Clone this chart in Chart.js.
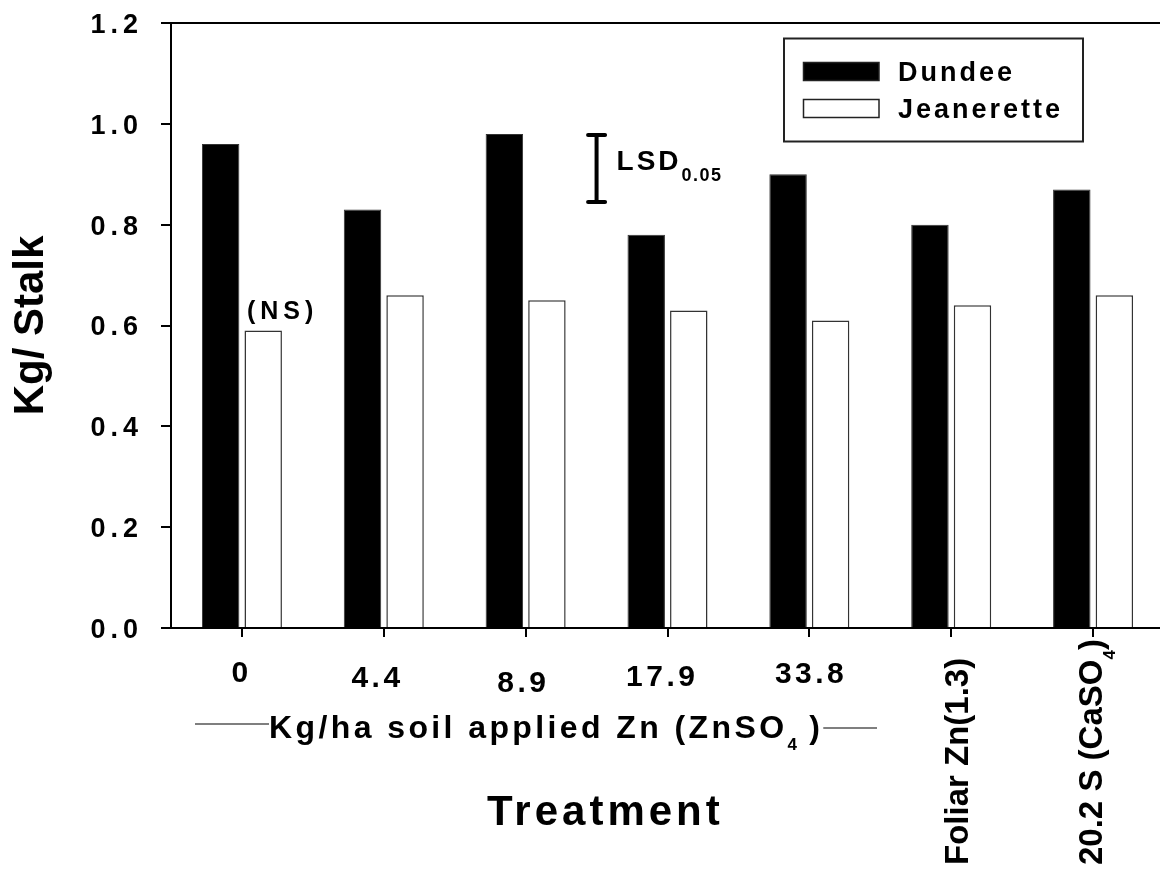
<!DOCTYPE html>
<html>
<head>
<meta charset="utf-8">
<script src="https://cdn.jsdelivr.net/npm/chart.js@4/dist/chart.umd.min.js"></script>
<style>
  html, body { margin: 0; padding: 0; background: #fff; overflow: hidden; }
  canvas { display: block; }
</style>
</head>
<body>
<canvas id="c" width="1165" height="873"></canvas>
<script>
// ---------- data ----------
const categories = ['0', '4.4', '8.9', '17.9', '33.8', 'Foliar Zn(1.3)', '20.2 S (CaSO4)'];
const seriesNames = ['Dundee', 'Jeanerette'];
const dundee = [0.96, 0.83, 0.98, 0.78, 0.90, 0.80, 0.87];
const jeanerette = [0.59, 0.66, 0.65, 0.63, 0.61, 0.64, 0.66];
const yTickValues = [0.0, 0.2, 0.4, 0.6, 0.8, 1.0, 1.2];
const lsdRange = [0.845, 0.978];
const lsdLabel = ['LSD', '0.05'];
const nsLabel = '(NS)';
const xGroupLabel = ['Kg/ha soil applied Zn (ZnSO', '4', ' )'];
const xTitle = 'Treatment';
const yTitle = 'Kg/ Stalk';

const FAMILY = '"Liberation Sans", Arial, Helvetica, sans-serif';

function setFont(ctx, size, sp) {
  ctx.font = 'bold ' + size + 'px ' + FAMILY;
  ctx.letterSpacing = (sp || 0) + 'px';
}
function drawRuns(ctx, x, y, runs) {
  let cx = x;
  for (const r of runs) {
    setFont(ctx, r.size, r.sp);
    ctx.fillText(r.t, cx, y + (r.dy || 0));
    cx += ctx.measureText(r.t).width;
  }
  return cx;
}
function labelRuns(label, size, subSize, subDy) {
  const m = label.match(/^(.*SO)(\d)(.*)$/);
  if (!m) return [{t: label, size: size}];
  return [{t: m[1], size: size}, {t: m[2], size: subSize, dy: subDy}, {t: m[3], size: size}];
}

const overlay = {
  id: 'overlay',
  afterLayout(chart) {
    const s = chart.scales.y;
    if (!s._patched) {
      const orig = Object.getPrototypeOf(s).drawLabels;
      s.drawLabels = function (area) {
        const c = this.ctx;
        c.save();
        c.letterSpacing = '5px';
        c.translate(-18, 2.5);
        orig.call(this, area);
        c.restore();
      };
      s._patched = true;
    }
  },
  afterDraw(chart) {
    const ctx = chart.ctx;
    const xs = chart.scales.x, ys = chart.scales.y;
    const area = chart.chartArea;
    ctx.save();
    ctx.fillStyle = '#000';
    ctx.strokeStyle = '#000';
    ctx.textBaseline = 'alphabetic';
    ctx.textAlign = 'left';

    // top frame line
    const yTop = Math.round(ys.getPixelForValue(yTickValues[yTickValues.length - 1]));
    ctx.lineWidth = 2;
    ctx.beginPath();
    ctx.moveTo(area.left, yTop);
    ctx.lineTo(chart.width, yTop);
    ctx.stroke();

    // legend
    ctx.lineWidth = 2;
    ctx.strokeStyle = '#222';
    ctx.strokeRect(784, 38.5, 299, 103);
    const ds = chart.data.datasets;
    const rows = [{sy: 62.5, base: 81}, {sy: 99.5, base: 118.3}];
    ds.forEach((d, i) => {
      const r = rows[i];
      ctx.fillStyle = d.backgroundColor;
      ctx.fillRect(803.5, r.sy, 75.5, 18);
      ctx.lineWidth = 1.5;
      ctx.strokeStyle = '#222';
      ctx.strokeRect(803.5, r.sy, 75.5, 18);
      ctx.fillStyle = '#000';
      setFont(ctx, 27, 3);
      ctx.fillText(d.label, 898, r.base);
    });

    // LSD bar
    const lx = xs.getPixelForValue(2.5);
    const ly1 = ys.getPixelForValue(lsdRange[1]);
    const ly2 = ys.getPixelForValue(lsdRange[0]);
    ctx.strokeStyle = '#000';
    ctx.lineWidth = 4;
    ctx.lineCap = 'round';
    ctx.beginPath();
    ctx.moveTo(lx, ly1); ctx.lineTo(lx, ly2);
    ctx.moveTo(lx - 8.5, ly1); ctx.lineTo(lx + 8.5, ly1);
    ctx.moveTo(lx - 8.5, ly2); ctx.lineTo(lx + 8.5, ly2);
    ctx.stroke();
    ctx.lineCap = 'butt';
    ctx.fillStyle = '#000';
    drawRuns(ctx, lx + 20, 170, [
      {t: lsdLabel[0], size: 28, sp: 3},
      {t: lsdLabel[1], size: 18, sp: 1.5, dy: 10.7}
    ]);

    // (NS)
    setFont(ctx, 25, 5);
    ctx.fillText(nsLabel, xs.getPixelForTick(0) + 5, 318.5);

    // x category labels
    const nudges = [
      {dx: -2, base: 682}, {dx: -8, base: 687}, {dx: -4, base: 692},
      {dx: -7, base: 686}, {dx: 0, base: 683}
    ];
    const rot = [{dx: 17, start: 865}, {dx: 8.6, start: 865}];
    categories.forEach((lab, i) => {
      const tx = xs.getPixelForTick(i);
      if (i < nudges.length) {
        const n = nudges[i];
        setFont(ctx, 30, 3.5);
        const w = ctx.measureText(lab).width - 3.5;
        ctx.fillText(lab, tx + n.dx - w / 2, n.base);
      } else {
        const r = rot[i - nudges.length];
        ctx.save();
        ctx.translate(tx + r.dx, r.start);
        ctx.rotate(-Math.PI / 2);
        drawRuns(ctx, 0, 0, labelRuns(lab, 33, 17, 13));
        ctx.restore();
      }
    });

    // bracket group label
    ctx.strokeStyle = '#555';
    ctx.lineWidth = 1.5;
    ctx.beginPath();
    ctx.moveTo(195, 724); ctx.lineTo(269, 724);
    ctx.stroke();
    const endX = drawRuns(ctx, 269, 738.3, [
      {t: xGroupLabel[0], size: 32, sp: 3.4},
      {t: xGroupLabel[1], size: 17, dy: 12},
      {t: xGroupLabel[2], size: 32, sp: 3.4}
    ]);
    ctx.beginPath();
    ctx.moveTo(endX, 728); ctx.lineTo(877, 728);
    ctx.stroke();

    // x title
    setFont(ctx, 42, 4);
    ctx.fillText(xTitle, 487, 825);

    ctx.restore();
  }
};

new Chart(document.getElementById('c'), {
  type: 'bar',
  data: {
    labels: categories,
    datasets: [
      {label: seriesNames[0], data: dundee, backgroundColor: '#000', borderColor: '#333', borderWidth: 1,
       categoryPercentage: 0.6, barPercentage: 0.88},
      {label: seriesNames[1], data: jeanerette, backgroundColor: '#fff', borderColor: '#333', borderWidth: 1.5,
       categoryPercentage: 0.6, barPercentage: 0.88}
    ]
  },
  options: {
    responsive: false,
    animation: false,
    devicePixelRatio: 1,
    layout: {padding: {top: 23, right: 1, bottom: 0, left: 0}},
    plugins: {legend: {display: false}, tooltip: {enabled: false}},
    scales: {
      x: {
        grid: {display: true, drawOnChartArea: false, drawTicks: true, tickLength: 9, offset: false, color: '#000', lineWidth: 2},
        border: {display: true, color: '#000', width: 2},
        ticks: {display: false},
        afterFit(s) { s.height = 245; }
      },
      y: {
        min: yTickValues[0],
        max: yTickValues[yTickValues.length - 1],
        afterBuildTicks(s) { s.ticks = yTickValues.map(v => ({value: v})); },
        grid: {display: true, drawOnChartArea: false, drawTicks: true, tickLength: 10, color: '#000', lineWidth: 2},
        border: {display: true, color: '#000', width: 2},
        ticks: {
          color: '#000', padding: 0,
          font: {family: FAMILY, size: 27, weight: 'bold'},
          callback: v => Number(v).toFixed(1)
        },
        title: {
          display: true, text: yTitle, color: '#000',
          font: {family: FAMILY, size: 42, weight: 'bold', lineHeight: 1.2},
          padding: {top: 6, bottom: 0}
        },
        afterFit(s) { s.width = 171; }
      }
    }
  },
  plugins: [overlay]
});
</script>
</body>
</html>
